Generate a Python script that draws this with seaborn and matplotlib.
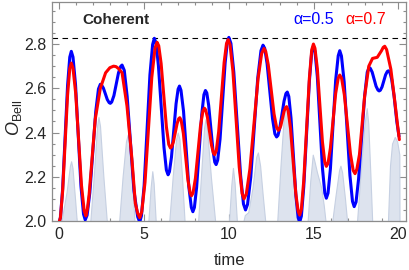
import numpy as np
import pandas as pd
import matplotlib
matplotlib.use('Agg')
import matplotlib.pyplot as plt
from matplotlib.ticker import MultipleLocator
import seaborn as sns

# Bell observable, alpha = 0.5 (blue): (time, O_Bell)
blue_pts = [
    (0.00, 1.990), (0.09, 2.016), (0.22, 2.145), (0.51, 2.612), (0.64, 2.741), (0.73, 2.767),
    (0.83, 2.741), (0.98, 2.615), (1.30, 2.157), (1.45, 2.031), (1.55, 2.005), (1.66, 2.026),
    (1.82, 2.128), (2.17, 2.495), (2.33, 2.597), (2.44, 2.618), (2.51, 2.615), (2.62, 2.601),
    (2.85, 2.549), (2.96, 2.535), (3.03, 2.532), (3.11, 2.538), (3.24, 2.567), (3.51, 2.670),
    (3.64, 2.699), (3.72, 2.705), (3.85, 2.681), (4.02, 2.563), (4.42, 2.137), (4.64, 2.019),
    (4.76, 1.995), (4.86, 2.023), (5.02, 2.161), (5.36, 2.660), (5.52, 2.798), (5.62, 2.826),
    (5.72, 2.805), (5.86, 2.703), (6.19, 2.332), (6.33, 2.230), (6.43, 2.209), (6.51, 2.223),
    (6.63, 2.289), (6.90, 2.530), (7.02, 2.596), (7.10, 2.610), (7.19, 2.591), (7.34, 2.496),
    (7.65, 2.156), (7.80, 2.061), (7.89, 2.042), (7.98, 2.061), (8.11, 2.152), (8.41, 2.480),
    (8.54, 2.571), (8.63, 2.590), (8.71, 2.579), (8.82, 2.523), (9.07, 2.322), (9.18, 2.266),
    (9.26, 2.255), (9.35, 2.275), (9.49, 2.370), (9.79, 2.715), (9.92, 2.810), (10.01, 2.830),
    (10.13, 2.803), (10.30, 2.674), (10.70, 2.206), (10.87, 2.077), (10.99, 2.050), (11.11, 2.075),
    (11.30, 2.199), (11.71, 2.646), (11.90, 2.770), (12.02, 2.795), (12.12, 2.781), (12.26, 2.712),
    (12.58, 2.463), (12.72, 2.394), (12.82, 2.380), (12.90, 2.387), (13.01, 2.421), (13.26, 2.542),
    (13.37, 2.576), (13.45, 2.583), (13.54, 2.563), (13.67, 2.465), (13.96, 2.113), (14.09, 2.015),
    (14.18, 1.995), (14.28, 2.022), (14.42, 2.154), (14.75, 2.631), (14.89, 2.763), (14.99, 2.790),
    (15.08, 2.767), (15.22, 2.653), (15.52, 2.240), (15.66, 2.126), (15.75, 2.103), (15.85, 2.126),
    (15.99, 2.236), (16.30, 2.637), (16.45, 2.747), (16.54, 2.770), (16.64, 2.746), (16.80, 2.629),
    (17.14, 2.206), (17.29, 2.089), (17.39, 2.065), (17.50, 2.086), (17.65, 2.191), (18.01, 2.568),
    (18.16, 2.673), (18.27, 2.694), (18.34, 2.690), (18.45, 2.673), (18.68, 2.609), (18.79, 2.592),
    (18.86, 2.588), (18.93, 2.591), (19.03, 2.606), (19.24, 2.661), (19.34, 2.676), (19.41, 2.679),
    (19.50, 2.670), (19.60, 2.640), (19.74, 2.565), (19.90, 2.450), (20.03, 2.383),
]

# alpha = 0.7 (red)
red_pts = [
    (0.00, 1.990), (0.09, 2.015), (0.22, 2.135), (0.51, 2.569), (0.64, 2.689), (0.73, 2.714),
    (0.83, 2.691), (0.99, 2.576), (1.33, 2.161), (1.49, 2.046), (1.59, 2.023), (1.68, 2.055),
    (1.78, 2.120), (1.95, 2.280), (2.14, 2.460), (2.44, 2.600), (2.75, 2.670), (3.00, 2.693),
    (3.22, 2.700), (3.36, 2.698), (3.50, 2.690), (3.72, 2.670), (4.01, 2.520), (4.30, 2.280),
    (4.50, 2.080), (4.64, 2.035), (4.76, 2.015), (4.88, 2.042), (5.07, 2.174), (5.47, 2.649),
    (5.66, 2.781), (5.78, 2.808), (5.88, 2.792), (6.02, 2.712), (6.33, 2.426), (6.47, 2.346),
    (6.57, 2.330), (6.64, 2.335), (6.74, 2.357), (6.96, 2.440), (7.05, 2.462), (7.12, 2.467),
    (7.20, 2.455), (7.33, 2.396), (7.60, 2.185), (7.73, 2.126), (7.81, 2.114), (7.90, 2.127),
    (8.04, 2.193), (8.34, 2.431), (8.48, 2.497), (8.57, 2.510), (8.64, 2.503), (8.75, 2.468),
    (8.99, 2.342), (9.10, 2.307), (9.17, 2.300), (9.27, 2.318), (9.41, 2.404), (9.73, 2.716),
    (9.87, 2.802), (9.97, 2.820), (10.08, 2.796), (10.25, 2.676), (10.62, 2.244), (10.79, 2.124),
    (10.90, 2.100), (11.04, 2.123), (11.25, 2.236), (11.73, 2.644), (11.94, 2.757), (12.08, 2.780),
    (12.18, 2.767), (12.33, 2.706), (12.67, 2.484), (12.82, 2.423), (12.92, 2.410), (12.98, 2.414),
    (13.07, 2.431), (13.26, 2.496), (13.35, 2.513), (13.41, 2.517), (13.50, 2.500), (13.64, 2.419),
    (13.95, 2.125), (14.09, 2.044), (14.18, 2.027), (14.28, 2.053), (14.42, 2.182), (14.75, 2.645),
    (14.89, 2.774), (14.99, 2.800), (15.08, 2.781), (15.22, 2.689), (15.52, 2.358), (15.66, 2.266),
    (15.75, 2.247), (15.85, 2.261), (15.99, 2.330), (16.30, 2.577), (16.45, 2.646), (16.54, 2.660),
    (16.65, 2.645), (16.81, 2.571), (17.17, 2.303), (17.33, 2.229), (17.44, 2.214), (17.55, 2.235),
    (17.70, 2.300), (18.00, 2.560), (18.25, 2.700), (18.47, 2.735), (18.75, 2.740), (19.00, 2.770),
    (19.10, 2.785), (19.19, 2.790), (19.30, 2.775), (19.55, 2.686), (19.79, 2.536), (19.95, 2.430),
    (20.05, 2.368),
]

# shaded background quantity (drawn from the 2.0 baseline)
shade_t = [0.00, 0.15, 0.45, 0.65, 0.72, 0.80, 0.95, 1.05,
           1.85, 2.05, 2.25, 2.33, 2.42, 2.62, 2.82,
           3.55, 3.75, 3.95, 4.05, 4.15, 4.30, 4.45,
           5.27, 5.40, 5.50, 5.58, 5.70,
           6.50, 6.70, 6.90, 7.00, 7.10, 7.25, 7.40,
           8.20, 8.38, 8.55, 8.63, 8.72, 8.95, 9.20,
           10.02, 10.15, 10.25, 10.35, 10.48,
           10.87, 10.95, 11.15, 11.40, 11.62, 11.72, 11.85, 12.00, 12.15,
           12.86, 13.05, 13.25, 13.35, 13.48, 13.75, 14.05,
           14.65, 14.80, 14.95, 15.05, 15.20, 15.45, 15.60, 15.70,
           16.10, 16.30, 16.50, 16.58, 16.68, 16.85, 16.97,
           17.56, 17.75, 18.00, 18.13, 18.22, 18.35, 18.45,
           19.38, 19.50, 19.62, 19.78, 19.92, 20.05, 20.06]
shade_v = [2.00, 2.00, 2.13, 2.25, 2.27, 2.24, 2.10, 2.00,
           2.00, 2.20, 2.43, 2.47, 2.43, 2.20, 2.00,
           2.00, 2.20, 2.36, 2.39, 2.36, 2.20, 2.00,
           2.00, 2.15, 2.225, 2.17, 2.00,
           2.00, 2.20, 2.37, 2.40, 2.37, 2.20, 2.00,
           2.00, 2.22, 2.42, 2.46, 2.42, 2.20, 2.00,
           2.00, 2.16, 2.24, 2.17, 2.00,
           2.00, 2.027, 2.04, 2.15, 2.29, 2.31, 2.25, 2.12, 2.00,
           2.00, 2.25, 2.48, 2.52, 2.48, 2.22, 2.00,
           2.00, 2.18, 2.30, 2.27, 2.22, 2.15, 2.07, 2.00,
           2.00, 2.12, 2.23, 2.25, 2.22, 2.10, 2.00,
           2.00, 2.20, 2.44, 2.51, 2.44, 2.20, 2.00,
           2.00, 2.25, 2.35, 2.38, 2.36, 2.30, 2.00]

bell_bound = 2 * np.sqrt(2)

blue_df = pd.DataFrame(blue_pts, columns=['time', 'O'])
blue_df['alpha'] = 'α=0.5'
red_df = pd.DataFrame(red_pts, columns=['time', 'O'])
red_df['alpha'] = 'α=0.7'
df = pd.concat([blue_df, red_df], ignore_index=True)

sns.set_style('ticks')
plt.rcParams['font.family'] = ['Liberation Sans', 'DejaVu Sans']
plt.rcParams['mathtext.fontset'] = 'custom'
plt.rcParams['mathtext.rm'] = 'Liberation Sans'
plt.rcParams['mathtext.it'] = 'Liberation Sans:italic'

fig = plt.figure(figsize=(4.09, 2.70), dpi=100)
ax = fig.add_axes([0.127, 0.1815, 0.866, 0.811])

ax.fill_between(shade_t, 2.0, shade_v, color='#dde3ee', edgecolor='#c6d0e2', linewidth=0.8, zorder=1)
ax.axhline(bell_bound, color='black', lw=0.8, ls=(0, (5, 4)), zorder=2)

sns.lineplot(data=df, x='time', y='O', hue='alpha', palette={'α=0.5': '#0000ff', 'α=0.7': '#ff0000'},
             estimator=None, sort=False, lw=2.2, legend=False, ax=ax, zorder=3)

ax.set_xlim(-0.41, 20.45)
ax.set_ylim(2.0, 2.99)
ax.xaxis.set_major_locator(MultipleLocator(5))
ax.xaxis.set_minor_locator(MultipleLocator(1))
ax.yaxis.set_major_locator(MultipleLocator(0.2))
ax.yaxis.set_minor_locator(MultipleLocator(0.05))
ax.tick_params(which='both', direction='in', top=True, right=True, color='#8c8c8c', labelsize=11.5)
ax.tick_params(which='major', length=5, width=0.8, pad=4)
ax.tick_params(which='minor', length=2.5, width=0.8)
for s in ax.spines.values():
    s.set_color('#8c8c8c')
    s.set_linewidth(0.9)

ax.set_xlabel('time', fontsize=12, labelpad=8)
ax.set_ylabel(r'$O_{\mathrm{Bell}}$', fontsize=13)
ax.yaxis.set_label_coords(-0.078, 0.47)

ax.text(0.085, 0.918, 'Coherent', transform=ax.transAxes, fontsize=11, fontweight='bold', va='center', ha='left')
ax.text(0.681, 0.918, 'α=0.5', transform=ax.transAxes, fontsize=11.5, color='#0000ff', va='center', ha='left')
ax.text(0.828, 0.918, 'α=0.7', transform=ax.transAxes, fontsize=11.5, color='#ff0000', va='center', ha='left')

fig.savefig('out.png', dpi=100)
